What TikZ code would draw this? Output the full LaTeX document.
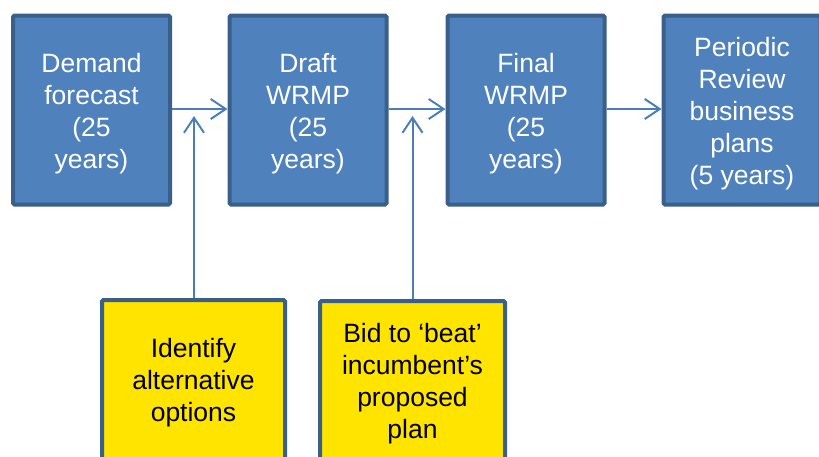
\documentclass[tikz,border=0pt]{standalone}
\usepackage{fontspec}
\setmainfont{Liberation Sans}
\usetikzlibrary{arrows.meta}
\definecolor{stagefill}{HTML}{4F81BD}
\definecolor{stageedge}{HTML}{3A5F8B}
\definecolor{notefill}{HTML}{FFE400}
\definecolor{linkcol}{HTML}{4A7EBB}
\tikzset{
  boxtext/.style={align=center, inner sep=0pt,
    font=\fontsize{26.5pt}{32pt}\selectfont},
  stage/.style={rectangle, draw=stageedge, fill=stagefill, line width=4pt,
    rounded corners=1.5pt, minimum width=157pt, minimum height=189pt,
    inner sep=0pt,
    label={[boxtext, text=white, yshift=-4pt]center:#1}},
  note/.style={rectangle, draw=stageedge, fill=notefill, line width=4pt,
    rounded corners=1.5pt, minimum height=160pt, inner sep=0pt,
    label={[boxtext, text=black, yshift=-3pt]center:#1}},
  link/.style={draw=linkcol, line width=2pt,
    -{Straight Barb[length=15pt,width=20pt,line width=2pt]}},
}
\begin{document}
\begin{tikzpicture}[x=1pt,y=-1pt]
  \useasboundingbox (0,0) rectangle (819,456);
  \clip (0,0) rectangle (819,456);
  % top row of planning stages
  \node[stage={Demand\\forecast\\(25\\years)}] (demand) at (91.5,110) {};
  \node[stage={Draft\\WRMP\\(25\\years)}] (draft) at (308,110) {};
  \node[stage={Final\\WRMP\\(25\\years)}] (final) at (526,110) {};
  \node[stage={Periodic\\Review\\business\\plans\\(5 years)}] (review) at (742,110) {};
  % inputs feeding the links
  \node[note={Identify\\alternative\\options}, minimum width=183pt] (options) at (193.5,380) {};
  \node[note={Bid to ‘beat’\\incumbent’s\\proposed\\plan}, minimum width=185pt] (bid) at (412.5,381) {};
  % links between stages
  \draw[link] (demand.east |- 0,109) -- (draft.west |- 0,109);
  \draw[link] (draft.east |- 0,109) -- (final.west |- 0,109);
  \draw[link] (final.east |- 0,109) -- (review.west |- 0,109);
  % upward links from the inputs
  \coordinate (optTip) at (194,116);
  \coordinate (bidTip) at (412.5,116);
  \draw[link] (options.north -| optTip) -- (optTip);
  \draw[link] (bid.north -| bidTip) -- (bidTip);
\end{tikzpicture}
\end{document}
